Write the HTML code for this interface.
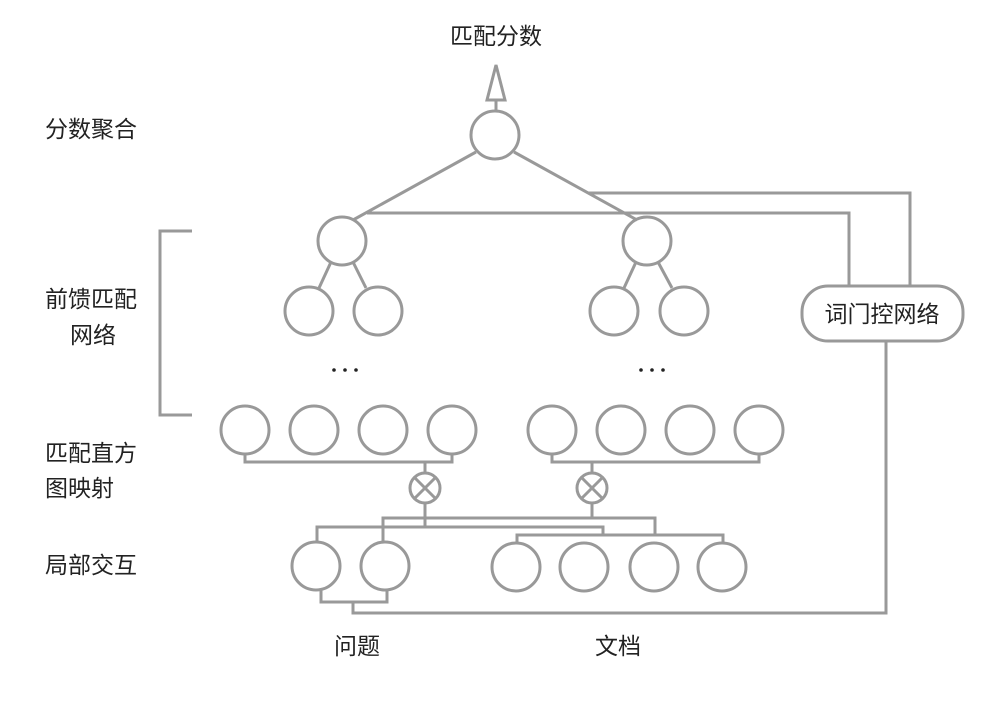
<!DOCTYPE html>
<html><head><meta charset="utf-8"><style>
body{margin:0;background:#fff;}
svg{display:block}
text{font-family:"Liberation Sans","Noto Sans CJK SC",sans-serif;font-size:23px;fill:#222}
</style></head><body>
<svg width="1002" height="723" viewBox="0 0 1002 723" xmlns="http://www.w3.org/2000/svg">
<g fill="none" stroke="#999" stroke-width="3">
<line x1="496" y1="100" x2="496" y2="111"/>
<polygon points="496,65 487,100 505,100"/>
<circle cx="495" cy="135" r="24"/>
<line x1="476" y1="152" x2="353" y2="220"/>
<line x1="514" y1="152" x2="637" y2="220"/>
<polyline points="367,213 849,213 849,285"/>
<polyline points="588,193 910,193 910,285"/>
<rect x="802" y="286" width="161" height="55" rx="26"/>
<polyline points="886,341 886,613 353,613 353,602"/>
<polyline points="321,590 321,602 387,602 387,590"/>
<circle cx="342" cy="241" r="24"/><circle cx="647" cy="241" r="24"/>
<circle cx="309" cy="311" r="24"/><circle cx="378" cy="311" r="24"/>
<circle cx="614" cy="311" r="24"/><circle cx="684" cy="311" r="24"/>
<line x1="331" y1="262" x2="319" y2="288"/><line x1="353" y1="262" x2="366" y2="288"/>
<line x1="636" y1="262" x2="624" y2="288"/><line x1="658" y1="262" x2="672" y2="288"/>
<polyline points="192,231 160,231 160,415 192,415"/>
<circle cx="245" cy="430" r="24"/><circle cx="314" cy="430" r="24"/><circle cx="383" cy="430" r="24"/><circle cx="452" cy="430" r="24"/>
<circle cx="552" cy="430" r="24"/><circle cx="621" cy="430" r="24"/><circle cx="690" cy="430" r="24"/><circle cx="759" cy="430" r="24"/>
<polyline points="245,454 245,462 452,462 452,454"/>
<polyline points="552,454 552,462 759,462 759,454"/>
<line x1="425" y1="462" x2="425" y2="473"/>
<line x1="592" y1="462" x2="592" y2="473"/>
<circle cx="425" cy="488" r="15"/><circle cx="592" cy="488" r="15"/>
<line x1="415" y1="478" x2="435" y2="498"/><line x1="435" y1="478" x2="415" y2="498"/>
<line x1="582" y1="478" x2="602" y2="498"/><line x1="602" y1="478" x2="582" y2="498"/>
<line x1="425" y1="503" x2="425" y2="527"/>
<line x1="592" y1="503" x2="592" y2="518"/>
<polyline points="317,543 317,527 603,527 603,535"/>
<polyline points="383,543 383,518 655,518 655,535"/>
<polyline points="517,543 517,535 723,535 723,543"/>
<circle cx="316" cy="566" r="24"/><circle cx="385" cy="566" r="24"/>
<circle cx="516" cy="567" r="24"/><circle cx="584" cy="567" r="24"/><circle cx="654" cy="567" r="24"/><circle cx="722" cy="567" r="24"/>
</g>
<g fill="#222">
<circle cx="334" cy="370" r="1.8"/><circle cx="345" cy="370" r="1.8"/><circle cx="356" cy="370" r="1.8"/>
<circle cx="641" cy="370" r="1.8"/><circle cx="652" cy="370" r="1.8"/><circle cx="663" cy="370" r="1.8"/>
</g>
<text x="496" y="44" text-anchor="middle">匹配分数</text>
<text x="45" y="137">分数聚合</text>
<text x="45" y="307">前馈匹配</text>
<text x="70" y="343">网络</text>
<text x="45" y="461">匹配直方</text>
<text x="45" y="496">图映射</text>
<text x="45" y="573">局部交互</text>
<text x="357" y="654" text-anchor="middle">问题</text>
<text x="618" y="654" text-anchor="middle">文档</text>
<text x="882" y="322" text-anchor="middle">词门控网络</text>
</svg>
</body></html>
